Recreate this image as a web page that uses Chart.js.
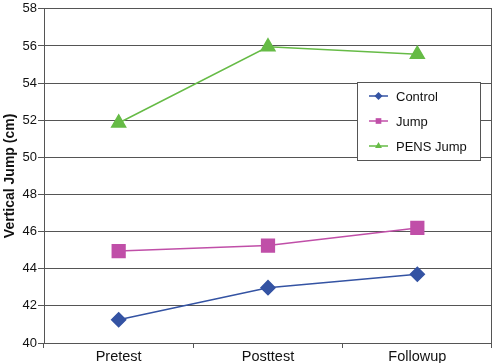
<!DOCTYPE html>
<html>
<head>
<meta charset="utf-8">
<script src="https://cdn.jsdelivr.net/npm/chart.js@4"></script>
<style>
  html, body { margin: 0; padding: 0; background: #fff; }
  #wrap { width: 492px; height: 363px; }
</style>
</head>
<body>
<div id="wrap"><canvas id="chart" width="492" height="363"></canvas></div>
<script>
const phases = ['Pretest', 'Posttest', 'Followup'];
const control = [41.25, 42.98, 43.7];
const jump = [44.95, 45.25, 46.2];
const pensJump = [51.85, 55.95, 55.55];
const yTicks = [40, 42, 44, 46, 48, 50, 52, 54, 56, 58];

const FONT = 'Arial, "Liberation Sans", sans-serif';

// legend box drawn inside the plot, like the original
const boxLegend = {
  id: 'boxLegend',
  afterDraw(chart) {
    const ctx = chart.ctx;
    const x = 357, y = 82, w = 123, h = 78;
    ctx.save();
    ctx.fillStyle = '#fff';
    ctx.fillRect(x, y, w, h);
    ctx.strokeStyle = '#555';
    ctx.lineWidth = 1;
    ctx.strokeRect(x + 0.5, y + 0.5, w, h);
    chart.data.datasets.forEach((ds, i) => {
      const cy = y + 14 + i * 25;
      ctx.strokeStyle = ds.borderColor;
      ctx.lineWidth = 1.5;
      ctx.beginPath();
      ctx.moveTo(x + 12, cy);
      ctx.lineTo(x + 31, cy);
      ctx.stroke();
      ctx.fillStyle = ds.backgroundColor;
      Chart.helpers.drawPoint(ctx, {pointStyle: ds.pointStyle, radius: 4, borderWidth: 0}, x + 21.5, cy);
      ctx.fillStyle = '#111';
      ctx.font = '13px ' + FONT;
      ctx.textBaseline = 'middle';
      ctx.fillText(ds.label, x + 39, cy + 1);
    });
    ctx.restore();
  }
};

new Chart(document.getElementById('chart'), {
  type: 'line',
  data: {
    labels: phases,
    datasets: [
      {
        label: 'Control',
        data: control,
        borderColor: '#3453a3',
        backgroundColor: '#3453a3',
        borderWidth: 1.5,
        pointStyle: 'rectRot',
        pointRadius: 7,
        pointHoverRadius: 7,
      },
      {
        label: 'Jump',
        data: jump,
        borderColor: '#c04fa8',
        backgroundColor: '#c04fa8',
        borderWidth: 1.5,
        pointStyle: 'rect',
        pointRadius: 9,
        pointHoverRadius: 9,
      },
      {
        label: 'PENS Jump',
        data: pensJump,
        borderColor: '#66bb46',
        backgroundColor: '#66bb46',
        borderWidth: 1.5,
        pointStyle: 'triangle',
        pointRadius: 8,
        pointHoverRadius: 8,
      }
    ]
  },
  options: {
    responsive: false,
    animation: false,
    layout: { autoPadding: false, padding: { top: 3, right: 0, left: 1, bottom: 0 } },
    plugins: {
      legend: { display: false },
      tooltip: { enabled: false }
    },
    scales: {
      x: {
        offset: true,
        grid: {
          offset: true,
          drawOnChartArea: false,
          color: '#555',
          tickLength: 5
        },
        border: { color: '#555' },
        ticks: { color: '#111', font: { size: 14.5, family: FONT }, padding: 0 },
        afterFit(scale) {
          scale.height = 20;
          scale.paddingLeft = 0;
          scale.paddingRight = 0;
        }
      },
      y: {
        min: 40,
        max: 58,
        afterBuildTicks(scale) { scale.ticks = yTicks.map(v => ({ value: v })); },
        grid: { color: '#555', tickLength: 6 },
        border: { color: '#555' },
        ticks: { color: '#111', font: { size: 13, family: FONT }, padding: 1 },
        title: {
          display: true,
          text: 'Vertical Jump (cm)',
          color: '#111',
          font: { size: 14, weight: 'bold', family: FONT },
          padding: { top: 1, bottom: 0 }
        },
        afterFit(scale) { scale.width = 43; }
      }
    }
  },
  plugins: [boxLegend, {
    id: 'rightEdge',
    afterDraw(chart) {
      const a = chart.chartArea, ctx = chart.ctx;
      ctx.save();
      ctx.strokeStyle = '#555';
      ctx.lineWidth = 1;
      ctx.beginPath();
      ctx.moveTo(a.right - 0.5, a.top);
      ctx.lineTo(a.right - 0.5, a.bottom + 5);
      ctx.stroke();
      ctx.restore();
    }
  }]
});
</script>
</body>
</html>
